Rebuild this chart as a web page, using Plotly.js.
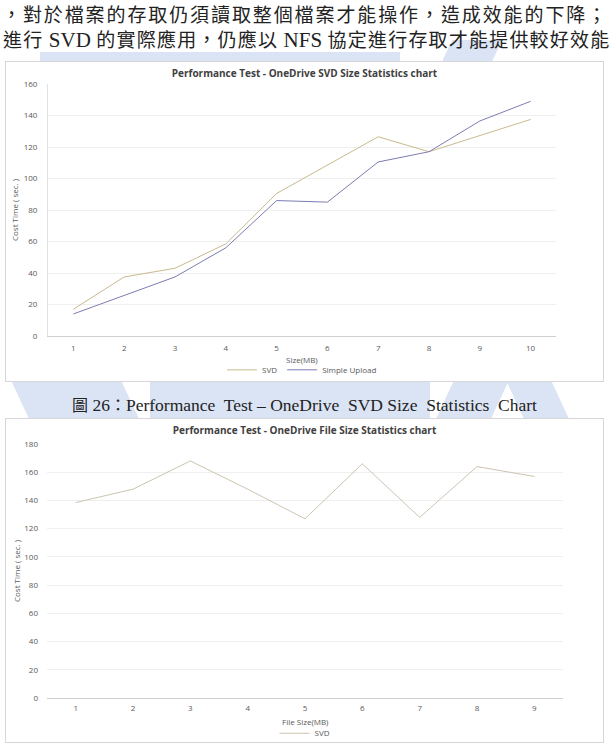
<!DOCTYPE html>
<html>
<head>
<meta charset="utf-8">
<script src="https://cdn.plot.ly/plotly-3.0.1.min.js"></script>
<style>
  html, body { margin:0; padding:0; width:611px; height:743px; overflow:hidden; background:#fff; position:relative; }
  .wm { position:absolute; background:#dbe4f4; }
  .txt { position:absolute; white-space:nowrap; font-family:"Noto Sans CJK TC","Liberation Serif",serif; color:#222; font-size:19px; letter-spacing:1.9px; }
  .lat { font-family:"Liberation Serif",serif; font-size:21px; letter-spacing:0; }
  .cap { position:absolute; left:72px; top:392px; white-space:nowrap; font-family:"Liberation Serif",serif; font-size:17.5px; color:#222; }
  .cap .cjk { font-family:"Noto Sans CJK TC",sans-serif; font-size:16px; }
  .chart { position:absolute; background:#fff; border:1px solid #d6d6d6; }
</style>
</head>
<body>
<!-- faint watermark -->
<div class="wm" style="left:40px;top:52px;width:360px;height:10px;"></div>
<div class="wm" style="left:447px;top:40px;width:50px;height:22px;transform:skewX(-25deg);"></div>
<div class="wm" style="left:20px;top:381px;width:110px;height:37px;transform:skewX(25deg);"></div>
<div class="wm" style="left:150px;top:381px;width:280px;height:37px;"></div>
<div class="wm" style="left:445px;top:381px;width:55px;height:37px;transform:skewX(-25deg);"></div>
<div class="wm" style="left:515px;top:381px;width:45px;height:37px;transform:skewX(25deg);"></div>

<div class="txt" style="left:2px;top:0px;">，對於檔案的存取仍須讀取整個檔案才能操作，造成效能的下降；</div>
<div class="txt" style="left:3px;top:25px;letter-spacing:1.2px;">進行 <span class="lat">SVD</span> 的實際應用，仍應以 <span class="lat">NFS</span> 協定進行存取才能提供較好效能</div>

<div id="c1" class="chart" style="left:5px;top:61px;width:597px;height:319px;"></div>
<div class="cap"><span class="cjk">圖</span> 26<span class="cjk">：</span>Performance&nbsp; Test – OneDrive&nbsp; SVD Size&nbsp; Statistics&nbsp; Chart</div>
<div id="c2" class="chart" style="left:5px;top:418px;width:597px;height:323px;"></div>

<script>
// ---- Chart 1 data ----
const sizes1 = ['1','2','3','4','5','6','7','8','9','10'];
const svd1 = [17, 37.5, 43, 58.5, 90.5, 108.5, 126.5, 117, 127, 137.5];
const simpleUpload1 = [14, 25.5, 37.5, 56, 86, 85, 110.5, 117, 136.5, 149];
// ---- Chart 2 data ----
const sizes2 = ['1','2','3','4','5','6','7','8','9'];
const svd2 = [138.5, 148, 168, 148, 127, 166, 128, 164, 157];

const titleFont = {family:'"Open Sans", "Liberation Sans", sans-serif', size:10, color:'#404040'};
const tickFont = {family:'"Open Sans", "Liberation Sans", sans-serif', size:8, color:'#595959'};
const svdColor1 = '#c8bb8d';
const suColor1 = '#7c7cb2';
const svdColor2 = '#cdc4b2';

function axisTitles(xText, yText, xShiftY, yShiftX) {
  return [
    {xref:'paper', yref:'paper', x:0.5, y:0, yanchor:'middle', xanchor:'center', yshift:xShiftY, text:xText, showarrow:false, font:tickFont},
    {xref:'paper', yref:'paper', x:0, y:0.5, xanchor:'center', yanchor:'middle', xshift:yShiftX, text:yText, textangle:-90, showarrow:false, font:tickFont}
  ];
}

const layout1 = {
  width:597, height:319,
  margin:{l:42, r:47, t:22, b:45},
  paper_bgcolor:'rgba(0,0,0,0)', plot_bgcolor:'#fff',
  title:{text:'<b>Performance Test - OneDrive SVD Size Statistics chart</b>', font:titleFont, x:0.5, xanchor:'center', y:0.975, yanchor:'top'},
  showlegend:true,
  legend:{orientation:'h', x:0.5, xanchor:'center', yref:'container', y:0.035, yanchor:'middle', font:tickFont, itemwidth:30, traceorder:'normal', bgcolor:'rgba(0,0,0,0)'},
  xaxis:{type:'category', range:[-0.5, sizes1.length-0.5], showgrid:false, showline:true, linecolor:'#d0d0d0', ticks:'', tickfont:tickFont, ticklabelstandoff:4, automargin:false},
  yaxis:{range:[0,160], dtick:20, showgrid:true, gridcolor:'#efefef', showline:true, linecolor:'#e2e2e2', zeroline:false,
         tickfont:tickFont, ticks:'', ticklabelstandoff:8, automargin:false},
  annotations:[
    ...axisTitles('Size(MB)', 'Cost Time ( sec. )', -23, -34),
    {x:sizes1[sizes1.length-1], y:simpleUpload1[simpleUpload1.length-1], text:'<b><i>Simple Upload</i></b>', showarrow:false, xanchor:'left', xshift:3, font:{family:'"Open Sans", sans-serif', size:6.5, color:'#303030'}},
    {x:sizes1[sizes1.length-1], y:svd1[svd1.length-1], text:'<b><i>SVD</i></b>', showarrow:false, xanchor:'left', xshift:3, font:{family:'"Open Sans", sans-serif', size:6.5, color:'#303030'}}
  ]
};
const data1 = [
  {x:sizes1, y:svd1, name:'SVD', type:'scatter', mode:'lines', line:{color:svdColor1, width:1}},
  {x:sizes1, y:simpleUpload1, name:'Simple Upload', type:'scatter', mode:'lines', line:{color:suColor1, width:1}}
];
Plotly.newPlot('c1', data1, layout1, {staticPlot:true, displayModeBar:false});

const layout2 = {
  width:597, height:323,
  margin:{l:41, r:40, t:25, b:44},
  paper_bgcolor:'rgba(0,0,0,0)', plot_bgcolor:'#fff',
  title:{text:'<b>Performance Test - OneDrive File Size Statistics chart</b>', font:titleFont, x:0.5, xanchor:'center', y:0.975, yanchor:'top'},
  showlegend:true,
  legend:{orientation:'h', x:0.5, xanchor:'center', yref:'container', y:0.027, yanchor:'middle', font:tickFont, itemwidth:30, bgcolor:'rgba(0,0,0,0)'},
  xaxis:{type:'category', range:[-0.5, sizes2.length-0.5], showgrid:false, showline:true, linecolor:'#d0d0d0', ticks:'', tickfont:tickFont, ticklabelstandoff:2, automargin:false},
  yaxis:{range:[0,180], dtick:20, showgrid:true, gridcolor:'#efefef', showline:false, zeroline:false,
         tickfont:tickFont, ticks:'', ticklabelstandoff:8, automargin:false},
  annotations: axisTitles('File Size(MB)', 'Cost Time ( sec. )', -23.5, -31)
};
const data2 = [
  {x:sizes2, y:svd2, name:'SVD', type:'scatter', mode:'lines', line:{color:svdColor2, width:1}, showlegend:true}
];
Plotly.newPlot('c2', data2, layout2, {staticPlot:true, displayModeBar:false});
</script>
</body>
</html>
